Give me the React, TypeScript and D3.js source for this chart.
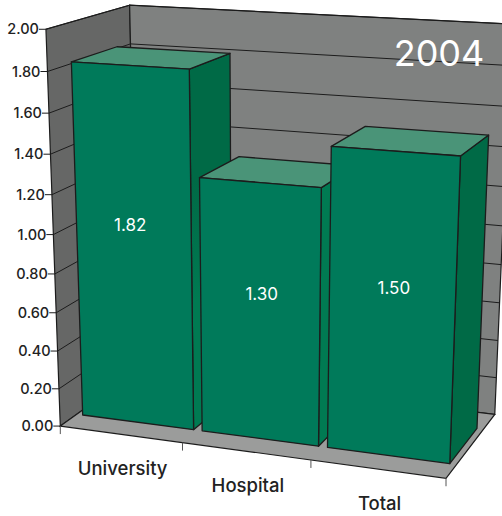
import React from "react";
import * as d3 from "d3";

const categories = ["University", "Hospital", "Total"];
const values = [1.82, 1.3, 1.5];
const yTicks = [0, 0.2, 0.4, 0.6, 0.8, 1.0, 1.2, 1.4, 1.6, 1.8, 2.0];
const yearLabel = "2004";

const WIDTH = 502;
const HEIGHT = 516;

// Camera calibration: unit-box coordinates [x, y, z] and where they land on screen.
const calibration: [number, number, number, number, number][] = [
  [0, 0, 0, 61, 425],
  [1 / 3, 0, 0, 183, 443],
  [2 / 3, 0, 0, 311, 460.5],
  [1, 0, 0, 447, 480],
  [0, 1, 0, 46, 29],
  [0, 0.5, 0, 53.4, 233.5],
  [0, 0.2, 0, 58, 349.7],
  [0, 1, 1, 130, 5],
  [0, 0.9, 1, 131.7, 43.5],
  [0, 0, 1, 137, 375],
  [1, 0, 1, 493, 412],
  [1, 0.5, 1, 503, 223],
  [1, 1, 1, 513, 25],
  // front-right edges of the columns
  [0.3235, 0.91, 0.2, 187, 69],
  [0.3235, 0, 0.2, 192.5, 428],
  [0.6535, 0.65, 0.2, 320, 189],
  [0.6535, 0, 0.2, 319, 446],
  [0.9835, 0.75, 0.2, 460, 158],
  [0.9835, 0, 0.2, 451, 464],
];

function solve(A: number[][], b: number[]): number[] {
  const n = b.length;
  const M = A.map((row, i) => [...row, b[i]]);
  for (let c = 0; c < n; c++) {
    let pivot = c;
    for (let r = c + 1; r < n; r++) if (Math.abs(M[r][c]) > Math.abs(M[pivot][c])) pivot = r;
    [M[c], M[pivot]] = [M[pivot], M[c]];
    for (let r = 0; r < n; r++) {
      if (r === c) continue;
      const f = M[r][c] / M[c][c];
      for (let k = c; k <= n; k++) M[r][k] -= f * M[c][k];
    }
  }
  return M.map((row, i) => row[n] / row[i]);
}

function fitCamera(points: typeof calibration): number[] {
  const rows: number[][] = [];
  const rhs: number[] = [];
  for (const [X, Y, Z, u, v] of points) {
    rows.push([X, Y, Z, 1, 0, 0, 0, 0, -u * X, -u * Y, -u * Z]);
    rhs.push(u);
    rows.push([0, 0, 0, 0, X, Y, Z, 1, -v * X, -v * Y, -v * Z]);
    rhs.push(v);
  }
  const ATA = d3.range(11).map((i) => d3.range(11).map((j) => d3.sum(rows, (r) => r[i] * r[j])));
  const ATb = d3.range(11).map((i) => d3.sum(rows, (r, k) => r[i] * rhs[k]));
  return solve(ATA, ATb);
}

const cam = fitCamera(calibration);
type P = [number, number];
const project = (x: number, y: number, z: number): P => {
  const w = cam[8] * x + cam[9] * y + cam[10] * z + 1;
  return [
    (cam[0] * x + cam[1] * y + cam[2] * z + cam[3]) / w,
    (cam[4] * x + cam[5] * y + cam[6] * z + cam[7]) / w,
  ];
};

const yScale = d3.scaleLinear().domain([0, 2]).range([0, 1]);
const xBand = d3.scaleBand<string>().domain(categories).range([0, 1]).paddingInner(0.07).paddingOuter(0.05);
const Z_FRONT = 0.2;
const Z_BACK = 0.75;

const line = d3.line<P>();
const poly = (pts: P[]) => line(pts)! + "Z";

const INK = "#1c1c1c";
const FONT = "Inter, 'Open Sans', sans-serif";
const sideFills = ["url(#firstSide)", "#007a52", "#006a46"];
// Small per-column shifts that keep the value labels clear of the face centre.
const labelShift: P[] = [[-3, -3], [2, -4], [2, -1]];

export default function App() {
  const walls = {
    left: [project(0, 0, 0), project(0, 1, 0), project(0, 1, 1), project(0, 0, 1)],
    back: [project(0, 0, 1), project(0, 1, 1), project(1, 1, 1), project(1, 0, 1)],
    floor: [project(0, 0, 0), project(1, 0, 0), project(1, 0, 1), project(0, 0, 1)],
  };
  return (
    <svg
      width={WIDTH}
      height={HEIGHT}
      viewBox={`0 0 ${WIDTH} ${HEIGHT}`}
      style={{ position: "fixed", left: 0, top: 0, background: "#fff" }}
    >
      <defs>
        <linearGradient id="firstSide" gradientUnits="userSpaceOnUse" x1={0} y1={180} x2={0} y2={300}>
          <stop offset={0} stopColor="#006a46" />
          <stop offset={1} stopColor="#007a52" />
        </linearGradient>
      </defs>
      <path d={poly(walls.left)} fill="#666766" stroke={INK} strokeWidth={1.2} />
      <path d={poly(walls.back)} fill="#7f8180" stroke={INK} strokeWidth={1.2} />
      <path d={poly(walls.floor)} fill="#9b9c9b" stroke={INK} strokeWidth={1.2} />

      {yTicks.map((t) => {
        const y = yScale(t);
        const a = project(0, y, 0);
        const b = project(0, y, 1);
        const c = project(1, y, 1);
        return (
          <g key={t}>
            {t > 0 && <path d={line([a, b, c])!} fill="none" stroke={INK} strokeWidth={1} />}
            <line x1={a[0] - 7} y1={a[1]} x2={a[0]} y2={a[1]} stroke={INK} strokeWidth={1} />
            <text
              x={a[0] - 7}
              y={a[1]}
              dy="0.36em"
              textAnchor="end"
              fontFamily={FONT}
              fontSize={14.5}
              fontWeight={500}
              fill="#222"
            >
              {t.toFixed(2)}
            </text>
          </g>
        );
      })}

      {d3.range(categories.length + 1).map((i) => {
        const a = project(i / categories.length, 0, 0);
        return <line key={i} x1={a[0]} y1={a[1]} x2={a[0]} y2={a[1] + 8} stroke="#555" strokeWidth={1} />;
      })}

      {categories.map((c, i) => {
        const a = project((i + 0.5) / categories.length, 0, 0);
        return (
          <text
            key={c}
            x={a[0] + 2}
            y={a[1] + 34}
            dy="0.36em"
            textAnchor="middle"
            fontFamily={FONT}
            fontSize={18.5}
            fontWeight={500}
            fill="#222"
          >
            {c}
          </text>
        );
      })}

      {categories.map((c, i) => {
        const x0 = xBand(c)!;
        const x1 = x0 + xBand.bandwidth();
        const h = yScale(values[i]);
        const front = [project(x0, 0, Z_FRONT), project(x0, h, Z_FRONT), project(x1, h, Z_FRONT), project(x1, 0, Z_FRONT)];
        const side = [project(x1, 0, Z_FRONT), project(x1, h, Z_FRONT), project(x1, h, Z_BACK), project(x1, 0, Z_BACK)];
        const top = [project(x0, h, Z_FRONT), project(x0, h, Z_BACK), project(x1, h, Z_BACK), project(x1, h, Z_FRONT)];
        const mid = project((x0 + x1) / 2, h * 0.56, Z_FRONT);
        return (
          <g key={c}>
            <path d={poly(side)} fill={sideFills[i]} stroke={INK} strokeWidth={1.3} strokeLinejoin="round" />
            <path d={poly(top)} fill="#4a9478" stroke={INK} strokeWidth={1.3} strokeLinejoin="round" />
            <path d={poly(front)} fill="#007a5a" stroke={INK} strokeWidth={1.3} strokeLinejoin="round" />
            <text
              x={mid[0] + labelShift[i][0]}
              y={mid[1] + labelShift[i][1]}
              dy="0.36em"
              textAnchor="middle"
              fontFamily={FONT}
              fontSize={17}
              fill="#fff"
            >
              {values[i].toFixed(2)}
            </text>
          </g>
        );
      })}

      <text x={439} y={53} dy="0.36em" textAnchor="middle" fontFamily={FONT} fontSize={36} fill="#fff">
        {yearLabel}
      </text>
    </svg>
  );
}
